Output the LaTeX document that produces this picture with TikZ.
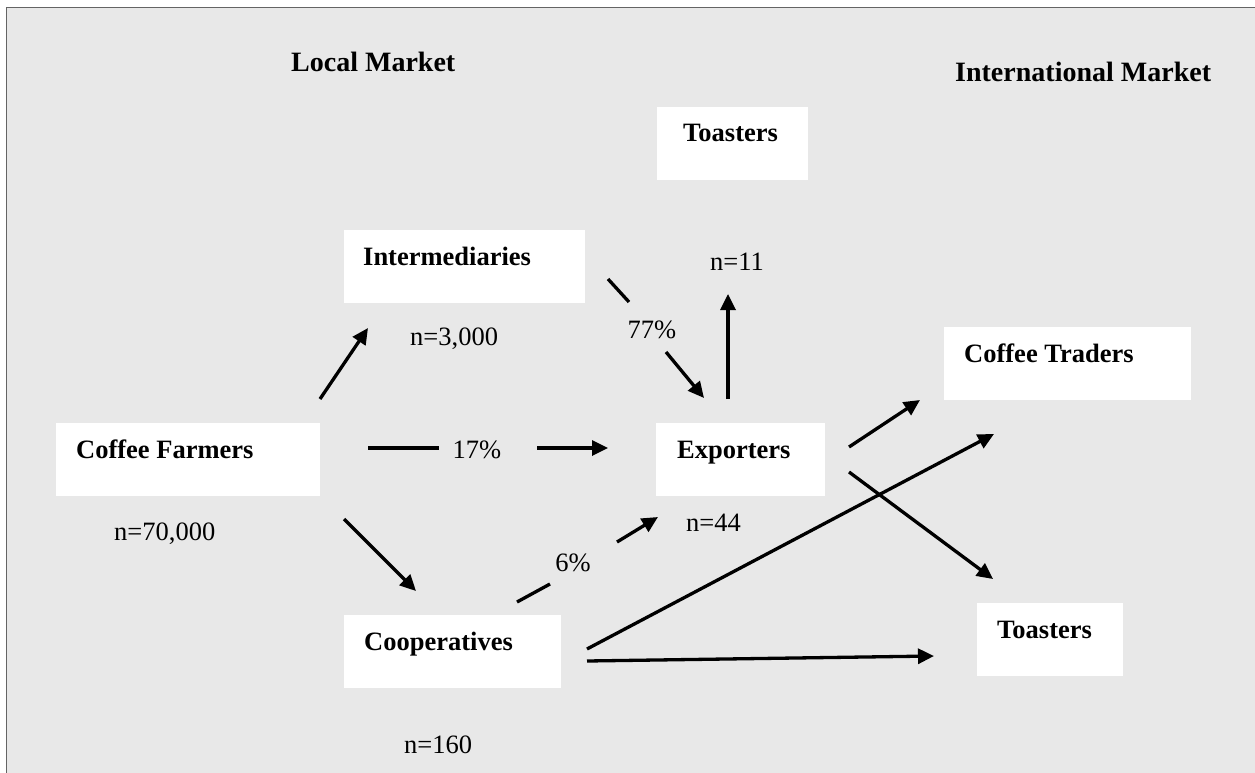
\documentclass[tikz,border=0pt]{standalone}
\usepackage{fontspec}
\setmainfont{Liberation Serif}
\usetikzlibrary{arrows.meta}
\definecolor{bg}{RGB}{232,232,232}
\definecolor{framecol}{RGB}{100,100,100}
\begin{document}
\begin{tikzpicture}[x=1pt,y=-1pt,
  box/.style={fill=white, draw=none, anchor=north west, inner sep=0pt, outer sep=0pt},
  lbl/.style={anchor=base west, inner sep=0pt, font=\fontsize{26.5}{30}\selectfont\bfseries},
  cnt/.style={anchor=base west, inner sep=0pt, font=\fontsize{26.5}{30}\selectfont},
  pct/.style={anchor=center, inner sep=0pt, font=\fontsize{26.5}{30}\selectfont},
  hdr/.style={anchor=base west, inner sep=0pt, font=\fontsize{28}{32}\selectfont\bfseries},
  arr/.style={line width=3.3pt, -{Triangle[length=16pt,width=15pt]}},
  seg/.style={line width=3.3pt},
]
\useasboundingbox (0,0) rectangle (1255,773);
\fill[white] (0,0) rectangle (1255,773);
\fill[bg] (6.5,7.5) rectangle (1255,773);
\draw[framecol, line width=1.5pt] (6.5,773) -- (6.5,7.5) -- (1255,7.5);

% headers
\node[hdr] (hlocal) at (291,72) {Local Market};
\node[hdr] (hint) at (955,82) {International Market};

% boxes
\node[box, minimum width=151pt, minimum height=73pt] (toastbox1) at (657,107) {};
\node[box, minimum width=241pt, minimum height=73pt] (intbox) at (344,230) {};
\node[box, minimum width=264pt, minimum height=73pt] (farmbox) at (56,423) {};
\node[box, minimum width=169pt, minimum height=73pt] (expbox) at (656,423) {};
\node[box, minimum width=247pt, minimum height=73pt] (tradebox) at (944,327) {};
\node[box, minimum width=146pt, minimum height=73pt] (toastbox2) at (977,603) {};
\node[box, minimum width=217pt, minimum height=73pt] (coopbox) at (344,615) {};

% box labels
\node[lbl] (toast1) at (683,142) {Toasters};
\node[lbl] (inter) at (363,265) {Intermediaries};
\node[lbl] (farm) at (76,458) {Coffee Farmers};
\node[lbl] (exp) at (677,458) {Exporters};
\node[lbl] (trade) at (964,362) {Coffee Traders};
\node[lbl] (toast2) at (997,638) {Toasters};
\node[lbl] (coop) at (364,650) {Cooperatives};

% counts
\node[cnt] (n11) at (710,270) {n=11};
\node[cnt] (n3000) at (410,345) {n=3,000};
\node[cnt] (n70000) at (114,540) {n=70,000};
\node[cnt] (n44) at (686,531) {n=44};
\node[cnt] (n160) at (404,753) {n=160};

% percentages
\node[pct] (p17) at (477,450) {17\%};
\node[pct] (p77) at (652,330) {77\%};
\node[pct] (p6) at (573,563) {6\%};

% connector end points
\coordinate (a1s) at (320,399); \coordinate (a1e) at (368,328);
\coordinate (a2s) at (368,448); \coordinate (a2m) at (439,448);
\coordinate (a2n) at (537,448); \coordinate (a2e) at (608,448);
\coordinate (a3s) at (608,279); \coordinate (a3m) at (629,302);
\coordinate (a3n) at (666,352); \coordinate (a3e) at (704,398);
\coordinate (a4s) at (728,399); \coordinate (a4e) at (728,294);
\coordinate (a5s) at (344,519); \coordinate (a5e) at (416,591);
\coordinate (a6s) at (517,602); \coordinate (a6m) at (550,584);
\coordinate (a6n) at (617,542); \coordinate (a6e) at (658,517);
\coordinate (a7s) at (849,447); \coordinate (a7e) at (920,400);
\coordinate (a8s) at (849,472); \coordinate (a8e) at (993,579);
\coordinate (a9s) at (587,649); \coordinate (a9e) at (994,434);
\coordinate (a10s) at (587,661); \coordinate (a10e) at (934,656);

\draw[arr] (a1s) -- (a1e);
\draw[seg] (a2s) -- (a2m);
\draw[arr] (a2n) -- (a2e);
\draw[seg] (a3s) -- (a3m);
\draw[arr] (a3n) -- (a3e);
\draw[arr] (a4s) -- (a4e);
\draw[arr] (a5s) -- (a5e);
\draw[seg] (a6s) -- (a6m);
\draw[arr] (a6n) -- (a6e);
\draw[arr] (a7s) -- (a7e);
\draw[arr] (a8s) -- (a8e);
\draw[arr] (a9s) -- (a9e);
\draw[arr] (a10s) -- (a10e);
\end{tikzpicture}
\end{document}
